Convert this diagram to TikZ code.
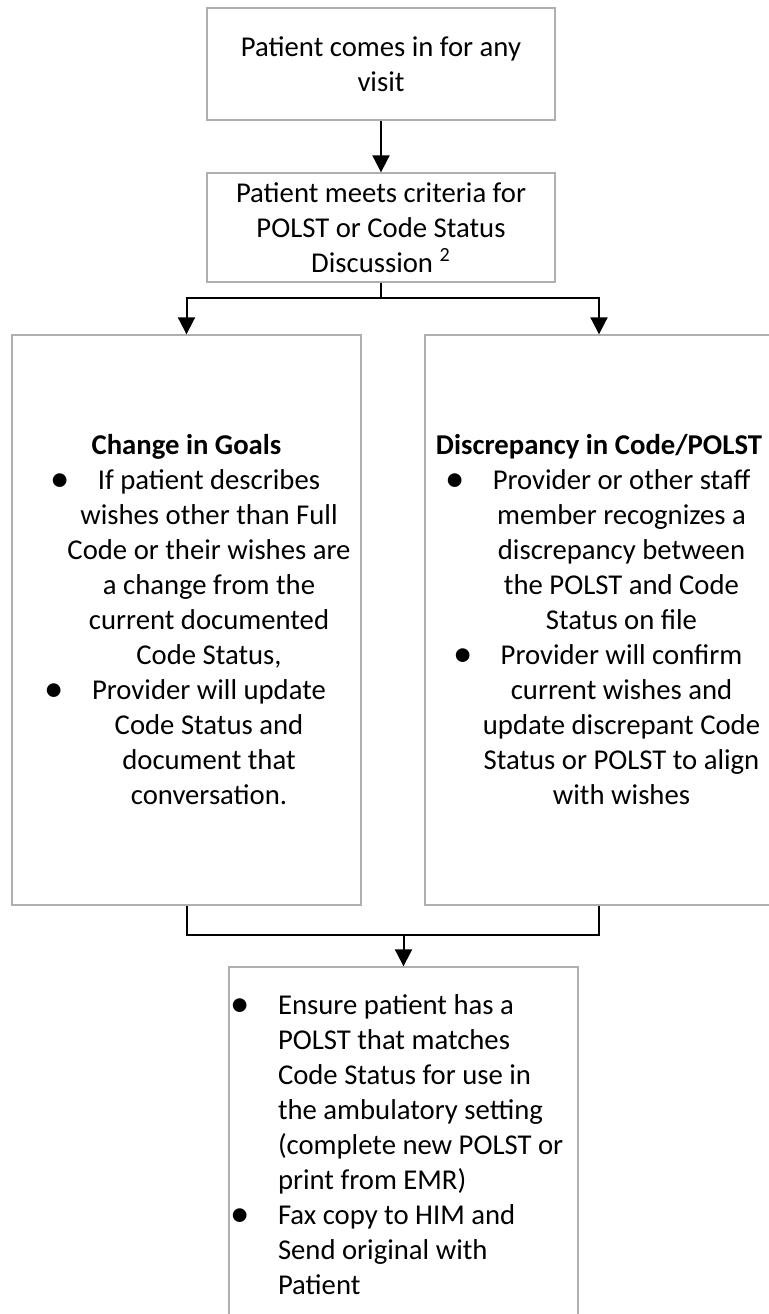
\documentclass[tikz,border=0pt]{standalone}
\usepackage{fontspec}
\setmainfont{Carlito}
\usepackage{graphicx}
\usepackage{tikz}
\usetikzlibrary{arrows.meta}
\definecolor{boxgray}{RGB}{175,175,175}
\newcommand{\itm}{\leavevmode\llap{\raisebox{-0.8pt}{\scalebox{1.35}{\textbullet}}\hspace{14pt}}}
\tikzset{
  box/.style={draw=boxgray, line width=0.7pt, align=flush center, inner xsep=2.5pt, inner ysep=0pt,
    font=\fontsize{14.35}{17.5}\selectfont},
  arr/.style={-{Triangle[length=8.5pt,width=8.5pt]}, line width=1pt},
  line/.style={line width=1pt}
}
\begin{document}
\begin{tikzpicture}[x=0.5pt,y=-0.5pt]
  \useasboundingbox (0,0) rectangle (769,1314);
  \node[box, text width=169pt, minimum height=56pt] (visit) at (381,64)
    {Patient comes in for any\\visit};
  \node[box, text width=169pt, minimum height=54.5pt] (criteria) at (381,227.5)
    {Patient meets criteria for\\POLST or Code Status\\Discussion \textsuperscript{2}};
  \node[box, text width=169.5pt, minimum height=285pt] (goals) at (186.5,620)
    {\textbf{Change in Goals}\par\leftskip=22.5pt plus 1fil
     \itm If patient describes\\wishes other than Full\\Code or their wishes are\\
     a change from the\\current documented\\Code Status,\\
     \itm Provider will update\\Code Status and\\document that\\conversation.\par};
  \node[box, text width=169pt, minimum height=285pt] (discrepancy) at (599,620)
    {\textbf{Discrepancy in Code/POLST}\par\leftskip=22.5pt plus 1fil
     \itm Provider or other staff\\member recognizes a\\discrepancy between\\
     the POLST and Code\\Status on file\\
     \itm Provider will confirm\\current wishes and\\update discrepant Code\\
     Status or POLST to align\\with wishes\par};
  \node[box, align=flush left, text width=169.5pt, minimum height=178pt] (actions) at (403.5,1145)
    {\leftskip=22pt
     \itm Ensure patient has a\\POLST that matches\\Code Status for use in\\
     the ambulatory setting\\(complete new POLST or\\print from EMR)\\
     \itm Fax copy to HIM and\\Send original with\\Patient\par};
  \coordinate (split) at (381,298);
  \coordinate (join) at (403.5,935);
  \draw[arr] (visit) -- (criteria);
  \draw[line] (criteria) -- (split);
  \draw[arr] (split) -| (goals.north);
  \draw[arr] (split) -| (discrepancy.north);
  \draw[line] (goals.south) |- (join);
  \draw[line] (discrepancy.south) |- (join);
  \draw[arr] (join) -- (actions.north);
\end{tikzpicture}
\end{document}
